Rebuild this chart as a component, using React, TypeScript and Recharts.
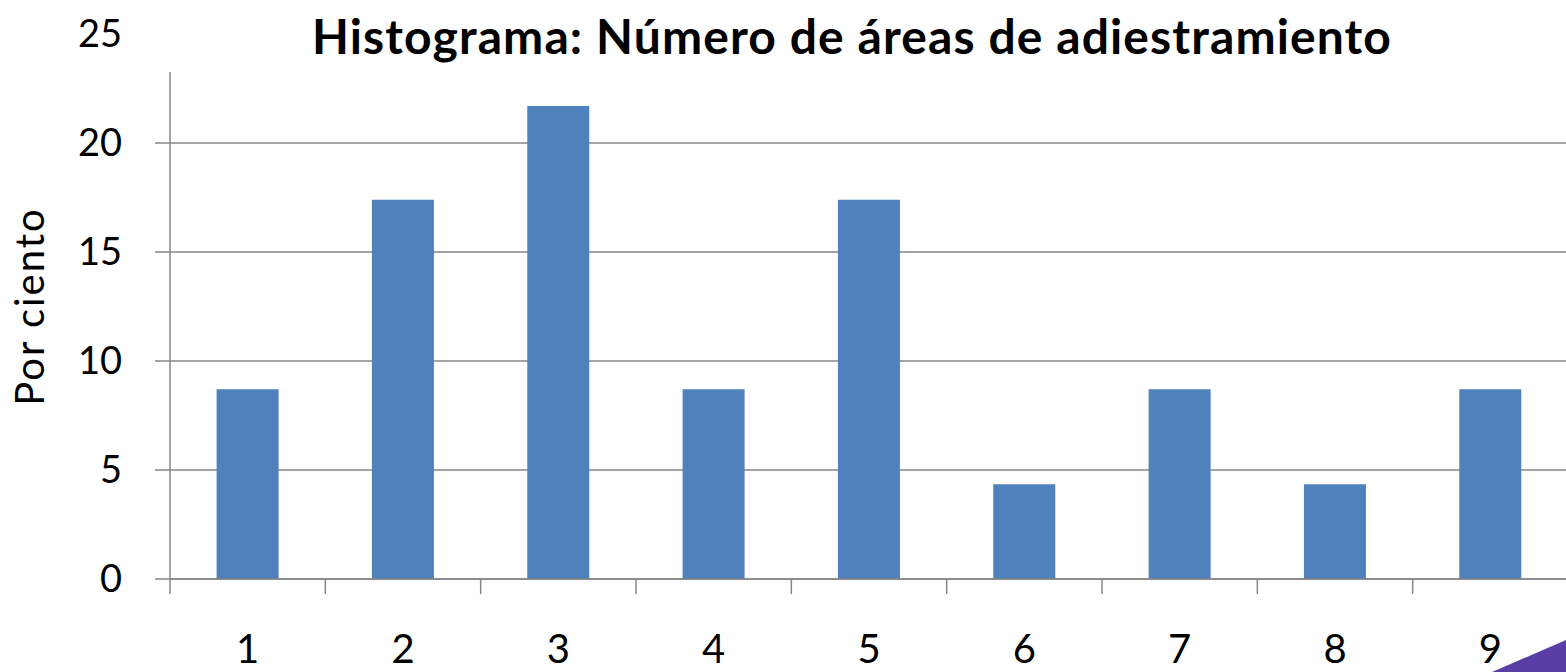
import React from 'react';
import { BarChart, Bar, XAxis, YAxis, CartesianGrid } from 'recharts';

// Porcentaje por número de áreas de adiestramiento (n = 23)
const CATEGORIES = ['1', '2', '3', '4', '5', '6', '7', '8', '9'];
const PERCENTS = [8.7, 17.4, 21.7, 8.7, 17.4, 4.35, 8.7, 4.35, 8.7];
const Y_TICKS = [0, 5, 10, 15, 20, 25];

const DATA = CATEGORIES.map((area, i) => ({ area, pct: PERCENTS[i] }));

const W = 1566;
const H = 672;
const CHART_W = 1568;
const Y_AXIS_W = 170;
const BAND = (CHART_W - Y_AXIS_W) / CATEGORIES.length;
const GRAY = '#868686';
const FONT = 'Lato, "Open Sans", sans-serif';

const CategoryTick = (props: any) => {
  const { x, y, payload } = props;
  const edge = x - BAND / 2;
  return (
    <g>
      <line x1={edge} x2={edge} y1={y} y2={y + 15} stroke={GRAY} strokeWidth={1.5} />
      <text x={x} y={y + 84} textAnchor="middle" fontSize={40} fontFamily={FONT} fill="#000">
        {payload.value}
      </text>
    </g>
  );
};

const App: React.FC = () => {
  return (
    <div style={{ position: 'absolute', left: 0, top: 0, width: W, height: H, overflow: 'hidden', background: '#fff' }}>
      <BarChart width={CHART_W} height={H} data={DATA} margin={{ top: 34, right: 0, bottom: 0, left: 0 }} barCategoryGap="30%">
        <CartesianGrid vertical={false} stroke={GRAY} strokeWidth={1.5} />
        <XAxis
          dataKey="area"
          height={93}
          tickSize={0}
          tickMargin={0}
          tickLine={false}
          axisLine={{ stroke: GRAY, strokeWidth: 1.5 }}
          tick={<CategoryTick />}
          interval={0}
        />
        <YAxis
          width={Y_AXIS_W}
          domain={[0, 25]}
          ticks={Y_TICKS}
          tickSize={15}
          tickMargin={33}
          tickLine={{ stroke: GRAY, strokeWidth: 1.5 }}
          axisLine={{ stroke: GRAY, strokeWidth: 1.5 }}
          tick={{ fontSize: 38, fontFamily: FONT, fill: '#000' }}
          label={{
            value: 'Por ciento',
            angle: -90,
            position: 'center',
            dx: -55,
            fontSize: 40,
            letterSpacing: 2,
            fontFamily: FONT,
            fill: '#000',
          }}
        />
        <Bar dataKey="pct" fill="#4F81BD" isAnimationActive={false} />
      </BarChart>
      <div
        style={{
          position: 'absolute',
          left: 150,
          top: 0,
          width: 1404,
          paddingRight: 12,
          height: 72,
          background: '#fff',
          textAlign: 'center',
          fontFamily: FONT,
          fontWeight: 700,
          fontSize: 48,
          letterSpacing: 1.1,
          lineHeight: '72px',
          color: '#000',
          whiteSpace: 'nowrap',
        }}
      >
        Histograma: Número de áreas de adiestramiento
      </div>
      <svg style={{ position: 'absolute', left: 0, top: 0 }} width={W} height={H}>
        <polygon points={`1492,${H} ${W},640 ${W},${H}`} fill="#5a3ea8" />
      </svg>
    </div>
  );
};

export default App;
